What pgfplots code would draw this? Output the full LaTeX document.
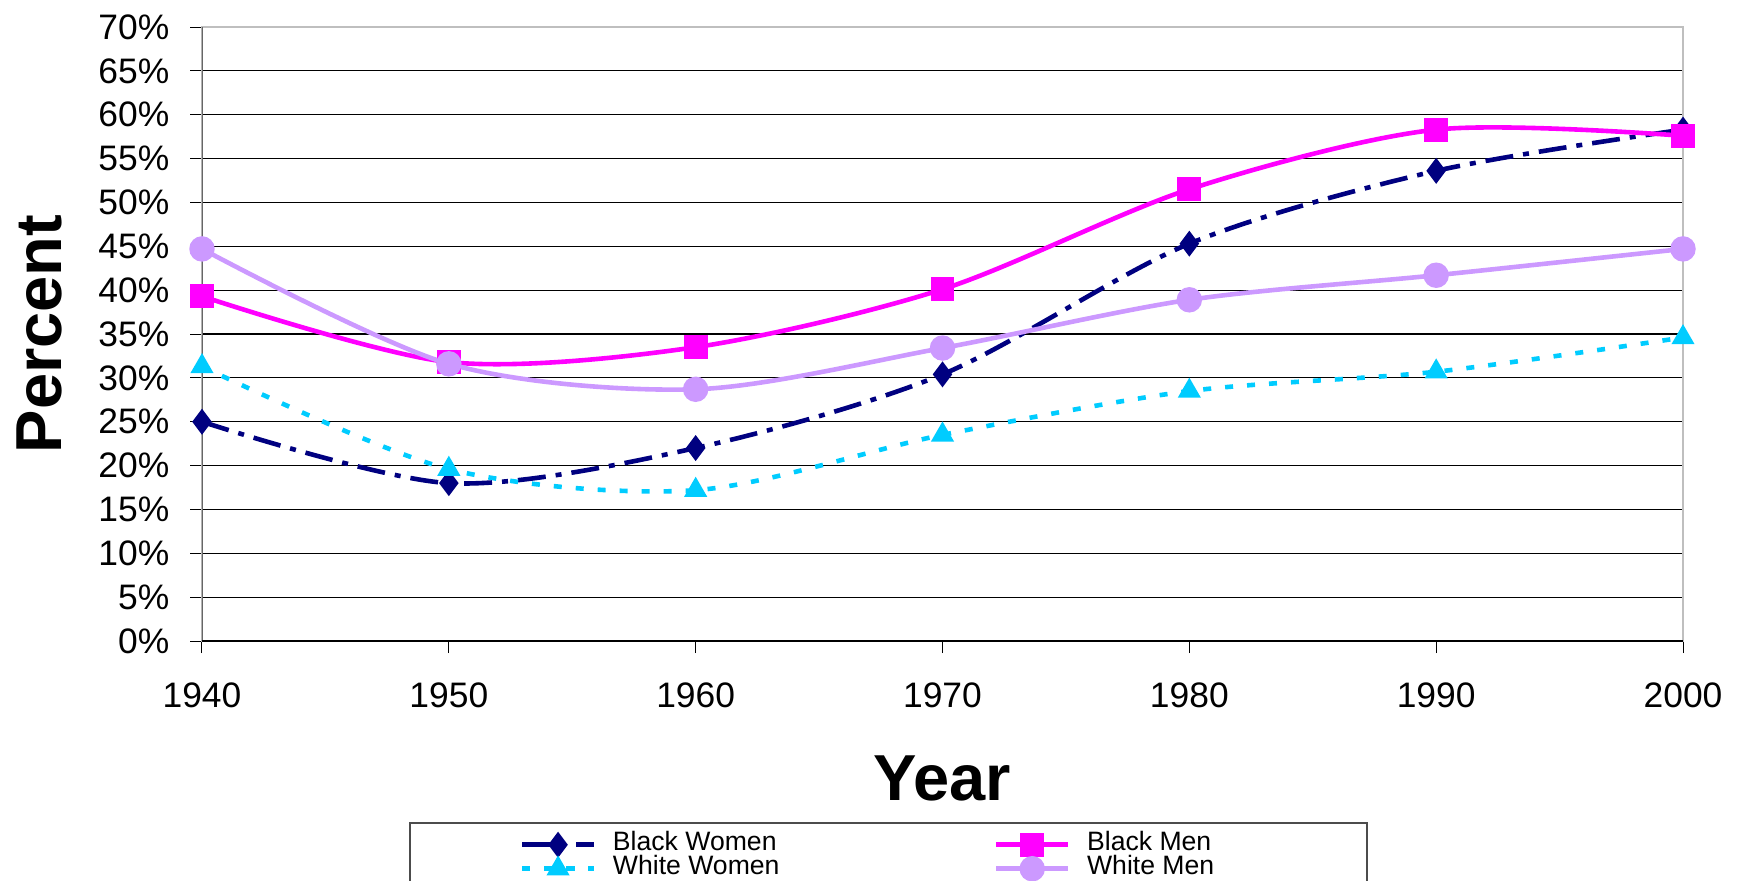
\documentclass[border=0pt]{standalone}
\usepackage{fontspec}
\setmainfont{Liberation Sans}
\usepackage{pgfplots}
\pgfplotsset{compat=1.18}
\definecolor{bw}{RGB}{0,0,128}
\definecolor{bm}{RGB}{255,0,255}
\definecolor{ww}{RGB}{0,204,255}
\definecolor{wm}{RGB}{204,153,255}
\begin{document}
\begin{tikzpicture}
\path[use as bounding box] (0,0) rectangle (874pt,440pt);
\begin{axis}[
  at={(101pt,119.5pt)}, anchor=south west,
  scale only axis, width=740.5pt, height=307pt,
  xmin=1940, xmax=2000, ymin=0, ymax=70,
  xtick={1940,1950,1960,1970,1980,1990,2000},
  ytick={0,5,10,15,20,25,30,35,40,45,50,55,60,65,70},
  yticklabels={0\%,5\%,10\%,15\%,20\%,25\%,30\%,35\%,40\%,45\%,50\%,55\%,60\%,65\%,70\%},
  /pgf/number format/1000 sep={},
  /pgf/number format/assume math mode=true,
  xtick pos=bottom, ytick pos=left,
  tick align=outside, major tick length=6pt,
  tick style={black, line width=0.5pt},
  ymajorgrids, major grid style={black, line width=0.6pt},
  axis line style={draw=black!25, line width=0.8pt},
  ticklabel style={font=\fontsize{17.7}{20}\selectfont},
  xticklabel style={yshift=-11.3pt},
  yticklabel style={xshift=-6.8pt},
  xlabel={Year}, ylabel={Percent},
  xlabel style={font=\fontsize{32.5}{36}\selectfont\bfseries, at={(axis description cs:0.5,-0.2231)}, anchor=center},
  ylabel style={font=\fontsize{32.5}{36}\selectfont\bfseries, at={(axis description cs:-0.1100,0.5)}, anchor=center, rotate=0},
  legend columns=2,
  legend cell align=left,
  legend style={draw=none, fill=none, inner sep=0pt, at={(axis description cs:0.2143,-0.3116)}, anchor=north west,
    font=\fontsize{13.3}{13.3}\selectfont,
    nodes={inner sep=0pt, text height=9pt, text depth=3pt},
    /tikz/every odd column/.append style={column sep=8.3pt},
    /tikz/every even column/.append style={column sep=107.2pt}},
  legend image code/.code={\draw[mark repeat=2,mark phase=2,#1] plot coordinates {(0pt,0pt)(18pt,0pt)(36pt,0pt)};},
  every axis plot/.append style={line width=2.3pt, line cap=butt},
  smooth, tension=0.5,
]
\addplot[bw, dash pattern=on 14pt off 5pt on 3pt off 5pt, mark=diamond*, mark size=4.6pt, mark options={solid}]
  coordinates {(1940,25.0)(1950,18.0)(1960,22.0)(1970,30.4)(1980,45.3)(1990,53.6)(2000,58.3)};
\addlegendentry{Black Women}
\addplot[bm, mark=square*, mark size=4.8pt, mark options={solid}]
  coordinates {(1940,39.3)(1950,31.8)(1960,33.5)(1970,40.1)(1980,51.5)(1990,58.3)(2000,57.6)};
\addlegendentry{Black Men}
\addplot[ww, dash pattern=on 4pt off 7pt, mark=triangle*, mark size=4.4pt, mark options={solid}]
  coordinates {(1940,31.3)(1950,19.6)(1960,17.2)(1970,23.5)(1980,28.5)(1990,30.7)(2000,34.6)};
\addlegendentry{White Women}
\addplot[wm, mark=*, mark size=5.2pt, mark options={solid}]
  coordinates {(1940,44.7)(1950,31.6)(1960,28.7)(1970,33.4)(1980,38.9)(1990,41.7)(2000,44.7)};
\addlegendentry{White Men}
\draw[black!60, line width=1.1pt] (rel axis cs:0,0) -- (rel axis cs:0,1);
\draw[black, line width=0.8pt] (rel axis cs:0,0) -- (rel axis cs:1,0);
\end{axis}
\draw[black!70, line width=0.7pt] (205pt,-5pt) -- (205pt,28.5pt) -- (683.5pt,28.5pt) -- (683.5pt,-5pt);
\end{tikzpicture}
\end{document}
